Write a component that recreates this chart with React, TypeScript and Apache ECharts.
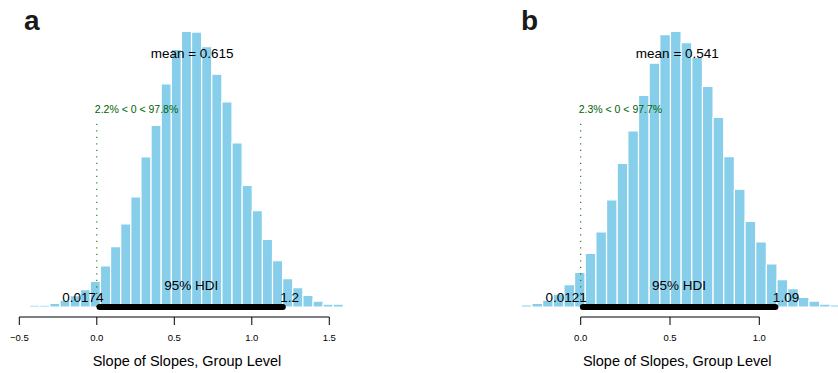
import React, { useEffect, useRef } from "react";
import * as echarts from "echarts";

const FONT = '"Liberation Sans", Arial, Helvetica, sans-serif';
const BAR = "#87CEEB";
const GREEN = "#006400";

// ---- Panel a: posterior of slope of slopes (group level) ----
const densityA = [
  0.009, 0.009, 0.019, 0.035, 0.058, 0.089, 0.131, 0.211, 0.309, 0.426, 0.564,
  0.769, 0.93, 1.143, 1.319, 1.411, 1.408, 1.333, 1.192, 1.051, 0.841, 0.623,
  0.493, 0.346, 0.237, 0.145, 0.099, 0.06, 0.03, 0.014, 0.014,
];
const breakStartA = -0.4335;
const binWidthA = 0.0653;
const xlimA = [-0.5084, 1.6723];
const ticksA = [-0.5, 0, 0.5, 1, 1.5];
const meanA = 0.615;
const hdiA = [0.0174, 1.2];
const pctA = [2.2, 97.8];

// ---- Panel b ----
const densityB = [
  0.011, 0.02, 0.037, 0.069, 0.121, 0.188, 0.291, 0.407, 0.581, 0.778, 0.954,
  1.147, 1.321, 1.476, 1.493, 1.433, 1.352, 1.195, 1.027, 0.815, 0.638, 0.464,
  0.353, 0.233, 0.148, 0.1, 0.052, 0.032, 0.016, 0.011,
];
const breakStartB = -0.3326;
const binWidthB = 0.05966;
const xlimB = [-0.3567, 1.4373];
const ticksB = [0, 0.5, 1];
const meanB = 0.541;
const hdiB = [0.0121, 1.09];
const pctB = [2.3, 97.7];

const compVal = 0;
const panelLabels = ["a", "b"];
const xTitle = "Slope of Slopes, Group Level";

type Panel = {
  density: number[];
  breakStart: number;
  binWidth: number;
  xlim: number[];
  ticks: number[];
  mean: number;
  hdi: number[];
  pct: number[];
  left: number;
  width: number;
};

const panels: Panel[] = [
  { density: densityA, breakStart: breakStartA, binWidth: binWidthA, xlim: xlimA, ticks: ticksA, mean: meanA, hdi: hdiA, pct: pctA, left: 18, width: 338 },
  { density: densityB, breakStart: breakStartB, binWidth: binWidthB, xlim: xlimB, ticks: ticksB, mean: meanB, hdi: hdiB, pct: pctB, left: 517, width: 320.4 },
];

const GRID_TOP = 20;
const GRID_BOTTOM = 61;
const PEAK_FRACTION = 280.3 / 292; // fraction of grid height taken by the tallest bar
const AXIS_OFFSET = 10;
const TICK_LEN = 8;

function fmtTick(v: number) {
  return v.toFixed(1).replace("-", "\u2212");
}

function buildOption() {
  const grid: any[] = [];
  const xAxis: any[] = [];
  const yAxis: any[] = [];
  const series: any[] = [];

  panels.forEach((p, i) => {
    const dmax = Math.max(...p.density);
    grid.push({ left: p.left, width: p.width, top: GRID_TOP, bottom: GRID_BOTTOM, containLabel: false });
    xAxis.push({
      type: "value",
      gridIndex: i,
      min: p.xlim[0],
      max: p.xlim[1],
      offset: AXIS_OFFSET,
      axisLine: { show: false },
      splitLine: { show: false },
      axisTick: { show: false },
      axisLabel: {
        show: true,
        customValues: p.ticks,
        formatter: fmtTick,
        fontSize: 9.5,
        fontFamily: FONT,
        color: "#000",
        margin: 15,
      },
      name: xTitle,
      nameLocation: "middle",
      nameGap: 36,
      nameTextStyle: { fontSize: 14.5, fontFamily: FONT, color: "#000" },
    });
    yAxis.push({
      type: "value",
      gridIndex: i,
      min: 0,
      max: dmax / PEAK_FRACTION,
      show: false,
      splitLine: { show: false },
    });

    const bins = p.density.map((d, k) => [
      p.breakStart + k * p.binWidth,
      p.breakStart + (k + 1) * p.binWidth,
      d,
    ]);

    series.push({
      type: "custom",
      xAxisIndex: i,
      yAxisIndex: i,
      clip: false,
      silent: true,
      encode: { x: [0, 1], y: 2 },
      data: bins,
      renderItem: (_params: any, api: any) => {
        const p0 = api.coord([api.value(0), api.value(2)]);
        const p1 = api.coord([api.value(1), 0]);
        return {
          type: "rect",
          shape: { x: p0[0], y: p0[1], width: p1[0] - p0[0], height: p1[1] - p0[1] },
          style: { fill: BAR, stroke: "#ffffff", lineWidth: 1.2 },
        };
      },
      z: 2,
    });

    series.push({
      type: "custom",
      xAxisIndex: i,
      yAxisIndex: i,
      clip: false,
      silent: true,
      encode: { x: 0, y: 1 },
      data: [[compVal, 0]],
      renderItem: (_params: any, api: any) => {
        const c0 = api.coord([compVal, 0]);
        const base = c0[1];
        const axisY = base + AXIS_OFFSET;
        const lineTop = api.coord([compVal, 0.672 * dmax])[1];
        const compTextY = api.coord([compVal, 0.717 * dmax])[1];
        const meanPt = api.coord([p.mean, 0.92 * dmax]);
        const h0 = api.coord([p.hdi[0], 0]);
        const h1 = api.coord([p.hdi[1], 0]);
        const hMid = api.coord([(p.hdi[0] + p.hdi[1]) / 2, 0]);
        const t0 = api.coord([p.ticks[0], 0]);
        const t1 = api.coord([p.ticks[p.ticks.length - 1], 0]);
        const txt = (x: number, y: number, text: string, size: number, align: string, fill = "#000") => ({
          type: "text",
          x,
          y,
          style: { text, fill, fontSize: size, fontFamily: FONT, align, verticalAlign: "middle" },
        });
        const tickMarks = p.ticks.map((t) => {
          const tx = api.coord([t, 0])[0];
          return {
            type: "line",
            shape: { x1: tx, y1: axisY, x2: tx, y2: axisY + TICK_LEN },
            style: { stroke: "#000", lineWidth: 1 },
          };
        });
        return {
          type: "group",
          children: [
            {
              type: "line",
              shape: { x1: c0[0], y1: base, x2: c0[0], y2: lineTop },
              style: { stroke: GREEN, lineWidth: 1, lineDash: [1.2, 5.3] },
            },
            txt(c0[0] - 2, compTextY, `${p.pct[0]}% < ${compVal} < ${p.pct[1]}%`, 10.5, "left", GREEN),
            txt(meanPt[0], meanPt[1], `mean = ${p.mean}`, 13.5, "center"),
            {
              type: "line",
              shape: { x1: h0[0], y1: base, x2: h1[0], y2: base },
              style: { stroke: "#000", lineWidth: 6, lineCap: "round" },
            },
            txt(hMid[0], base - 22, "95% HDI", 13.5, "center"),
            txt(h0[0] + 4, base - 9.7, String(p.hdi[0]), 13.5, "right"),
            txt(h1[0] - 2.5, base - 9.7, String(p.hdi[1]), 13.5, "left"),
            {
              type: "line",
              shape: { x1: t0[0], y1: axisY, x2: t1[0], y2: axisY },
              style: { stroke: "#000", lineWidth: 1 },
            },
            ...tickMarks,
          ],
        };
      },
      z: 5,
    });
  });

  return {
    animation: false,
    backgroundColor: "#ffffff",
    grid,
    xAxis,
    yAxis,
    series,
    graphic: [
      {
        type: "text",
        left: 24,
        top: 6,
        style: { text: panelLabels[0], fontSize: 28, fontWeight: "bold", fontFamily: FONT, fill: "#1a1a1a" },
      },
      {
        type: "text",
        left: 521,
        top: 6,
        style: { text: panelLabels[1], fontSize: 28, fontWeight: "bold", fontFamily: FONT, fill: "#1a1a1a" },
      },
    ],
  };
}

export default function App() {
  const ref = useRef<HTMLDivElement>(null);
  useEffect(() => {
    if (!ref.current) return;
    const chart = echarts.init(ref.current, undefined, { renderer: "svg" });
    chart.setOption(buildOption() as any);
    return () => chart.dispose();
  }, []);
  return (
    <div
      ref={ref}
      style={{ position: "absolute", left: 0, top: 0, width: 838, height: 373, background: "#fff" }}
    />
  );
}
